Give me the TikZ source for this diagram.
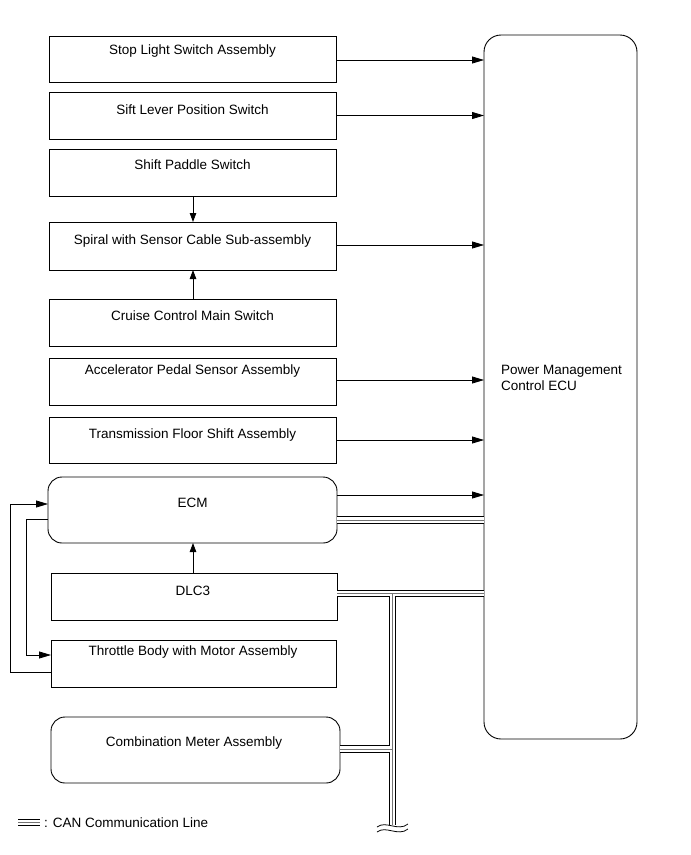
\documentclass[tikz,border=0pt]{standalone}
\usepackage{fontspec}
\setmainfont{Liberation Sans}
\usetikzlibrary{arrows.meta}
\begin{document}
\begin{tikzpicture}[x=1pt,y=-1pt,
  box/.style={draw,line width=0.9pt,outer sep=0pt,inner sep=0pt},
  rbox/.style={box,rounded corners=14pt},
  lbl/.style={inner sep=0pt,font=\fontsize{13.5}{16}\selectfont},
  conn/.style={line width=0.8pt},
  arr/.style={conn,-{Triangle[length=12pt,width=7pt]}},
  varr/.style={conn,-{Triangle[length=9pt,width=6.5pt]}},
  canline/.style={preaction={draw,line width=7.4pt,black}, draw=white, line width=5.6pt,
                  postaction={draw,line width=0.6pt,black!55}}]
\useasboundingbox (0,0) rectangle (691,855);

% left column boxes
\node[box,minimum width=287pt,minimum height=46pt] (b1) at (192.5,59) {};
\node[lbl] (t1) at (192.5,51) {Stop Light Switch Assembly};
\node[box,minimum width=287pt,minimum height=47pt] (b2) at (192.5,115.5) {};
\node[lbl] (t2) at (192.5,110) {Sift Lever Position Switch};
\node[box,minimum width=287pt,minimum height=47pt] (b3) at (192.5,172.5) {};
\node[lbl] (t3) at (192.5,165) {Shift Paddle Switch};
\node[box,minimum width=287pt,minimum height=48pt] (b4) at (192.5,246) {};
\node[lbl] (t4) at (192.5,241) {Spiral with Sensor Cable Sub-assembly};
\node[box,minimum width=287pt,minimum height=47pt] (b5) at (192.5,322.5) {};
\node[lbl] (t5) at (192.5,316) {Cruise Control Main Switch};
\node[box,minimum width=287pt,minimum height=47pt] (b6) at (192.5,381.5) {};
\node[lbl] (t6) at (192.5,371) {Accelerator Pedal Sensor Assembly};
\node[box,minimum width=287pt,minimum height=46pt] (b7) at (192.5,440) {};
\node[lbl] (t7) at (192.5,435) {Transmission Floor Shift Assembly};
\node[rbox,minimum width=289pt,minimum height=66pt] (ecm) at (192.5,510) {};
\node[lbl] (t8) at (192.5,503) {ECM};
\node[box,minimum width=286pt,minimum height=47pt] (dlc) at (194,596.5) {};
\node[lbl] (t9) at (193,591) {DLC3};
\node[box,minimum width=285pt,minimum height=47pt] (thr) at (193.5,663.5) {};
\node[lbl] (t10) at (193,652) {Throttle Body with Motor Assembly};
\node[rbox,minimum width=289pt,minimum height=66pt] (met) at (195.5,750) {};
\node[lbl] (t11) at (194,743) {Combination Meter Assembly};

% ECU
\node[box,rounded corners=17pt,minimum width=153pt,minimum height=704pt] (ecu) at (560.5,387) {};
\node[lbl,anchor=west,align=left] (t12) at (501,378) {Power Management\\Control ECU};

% arrows to ECU
\draw[arr] ([yshift=-1pt]b1.east) -- ([yshift=-1pt]b1.east -| ecu.west);
\draw[arr] (b2.east) -- (b2.east -| ecu.west);
\draw[arr] ([yshift=1pt]b4.east) -- ([yshift=1pt]b4.east -| ecu.west);
\draw[arr] ([yshift=1.5pt]b6.east) -- ([yshift=1.5pt]b6.east -| ecu.west);
\draw[arr] (b7.east) -- (b7.east -| ecu.west);
\draw[arr] ([yshift=15pt]ecm.east) -- ([yshift=15pt]ecm.east -| ecu.west);

% vertical arrows
\draw[varr] ([xshift=0.5pt]b3.south) -- ([xshift=0.5pt]b4.north);
\draw[varr] ([xshift=0.5pt]b5.north) -- ([xshift=0.5pt]b4.south);
\draw[varr] ([xshift=-1pt]dlc.north) -- ([xshift=-1pt]dlc.north |- ecm.south);

% loop between ECM and throttle
\draw[arr] ([yshift=-8.5pt]thr.west) -- ++(-41,0) |- ([yshift=6pt]ecm.west);
\draw[arr] ([yshift=-9pt]ecm.west) -- ++(-22,0) |- ([yshift=8.5pt]thr.west);

% CAN lines
\coordinate (busTop) at (392.5,593.5);
\coordinate (busEnd) at (392.5,825);
\draw[canline] ([yshift=-10pt]ecm.east) -- ([yshift=-10pt]ecm.east -| ecu.west)
  ([yshift=3pt]dlc.east) -- ([yshift=3pt]dlc.east -| ecu.west)
  (busTop) -- (busEnd)
  ([yshift=1pt]met.east) -- ([yshift=1pt]met.east -| busTop);
\draw[line width=0.8pt] (377,827) .. controls (386,820) and (398,832) .. (408,824);
\draw[line width=0.8pt] (377,832) .. controls (386,825) and (398,837) .. (408,829);

% legend
\coordinate (legA) at (18,822.5);
\coordinate (legB) at (40,822.5);
\draw[canline] (legA) -- (legB);
\node[lbl,anchor=west] (leg) at (44,822.5) {: CAN Communication Line};
\end{tikzpicture}
\end{document}
